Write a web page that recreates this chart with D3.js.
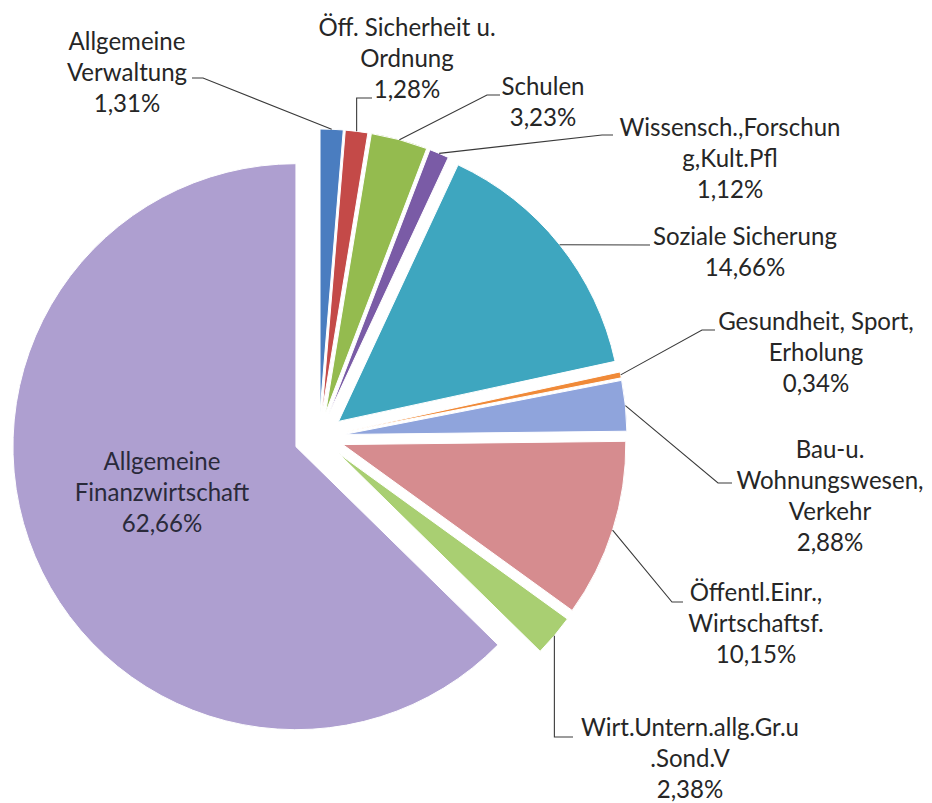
<!DOCTYPE html>
<html>
<head>
<meta charset="utf-8">
<script src="https://cdn.jsdelivr.net/npm/d3@7"></script>
<style>
  html, body { margin: 0; padding: 0; background: #ffffff; }
  svg { display: block; }
</style>
</head>
<body>
<svg id="chart" width="932" height="803"></svg>
<script>
// ---- data ----
const categories = [
  "Allgemeine Verwaltung",
  "Öff. Sicherheit u. Ordnung",
  "Schulen",
  "Wissensch.,Forschung,Kult.Pfl",
  "Soziale Sicherung",
  "Gesundheit, Sport, Erholung",
  "Bau-u. Wohnungswesen, Verkehr",
  "Öffentl.Einr., Wirtschaftsf.",
  "Wirt.Untern.allg.Gr.u .Sond.V",
  "Allgemeine Finanzwirtschaft"
];
const values = [1.31, 1.28, 3.23, 1.12, 14.66, 0.34, 2.88, 10.15, 2.38, 62.66];
const labelLines = [
  ["Allgemeine", "Verwaltung", "1,31%"],
  ["Öff. Sicherheit u.", "Ordnung", "1,28%"],
  ["Schulen", "3,23%"],
  ["Wissensch.,Forschun", "g,Kult.Pfl", "1,12%"],
  ["Soziale Sicherung", "14,66%"],
  ["Gesundheit, Sport,", "Erholung", "0,34%"],
  ["Bau-u.", "Wohnungswesen,", "Verkehr", "2,88%"],
  ["Öffentl.Einr.,", "Wirtschaftsf.", "10,15%"],
  ["Wirt.Untern.allg.Gr.u", ".Sond.V", "2,38%"],
  ["Allgemeine", "Finanzwirtschaft", "62,66%"]
];

// ---- styles / layout ----
const colors = ["#4a7dc0", "#c44a48", "#94bb4f", "#7a5ba6", "#3ea6bf",
                "#f08a38", "#8fa4dc", "#d68c8f", "#a9cf72", "#ae9fd0"];
const cx = 319, cy = 437, R = 283, explode = 25;
const lineH = 31;
// label: text center x, first line center y, elbow points from text to slice
const labelLayout = [
  { x: 127, y: 42,  path: [[192, 78], [203, 78]] },
  { x: 407, y: 28,  path: [[372, 98], ["ax", 98]] },
  { x: 543, y: 87,  path: [[500, 95], [487, 95]] },
  { x: 730, y: 128, path: [[613, 135], [602, 135]] },
  { x: 745, y: 237, path: [[650, 245]] },
  { x: 816, y: 322, path: [[715, 330], [702, 330]] },
  { x: 830, y: 450, path: [[732, 483], [718, 483]] },
  { x: 756, y: 593, path: [[683, 602], [672, 602]] },
  { x: 690, y: 728, path: [[573, 737], ["ax", 737]] },
  { x: 162, y: 462, path: null }
];

const svg = d3.select("#chart");
const g = svg.append("g").attr("transform", `translate(${cx},${cy})`);

const data = categories.map((c, i) => ({ name: c, value: values[i], i }));
const pie = d3.pie().value(d => d.value).sort(null).startAngle(0).endAngle(2 * Math.PI);
const arcs = pie(data);
const arc = d3.arc().innerRadius(0).outerRadius(R);

function offset(a) {
  const m = (a.startAngle + a.endAngle) / 2;
  return [explode * Math.sin(m), -explode * Math.cos(m)];
}

g.selectAll("path.slice")
  .data(arcs)
  .join("path")
  .attr("class", "slice")
  .attr("d", arc)
  .attr("transform", d => { const o = offset(d); return `translate(${o[0]},${o[1]})`; })
  .attr("fill", (d, i) => colors[i])
  .attr("stroke", "#ffffff")
  .attr("stroke-width", 1);

// leader lines
const leaders = svg.append("g");
arcs.forEach((a, i) => {
  const L = labelLayout[i];
  if (!L.path) return;
  const m = (a.startAngle + a.endAngle) / 2;
  const o = offset(a);
  const ax = cx + o[0] + R * Math.sin(m);
  const ay = cy + o[1] - R * Math.cos(m);
  const pts = L.path.map(p => [p[0] === "ax" ? ax : p[0], p[1]]);
  pts.push([ax, ay]);
  leaders.append("path")
    .attr("d", d3.line()(pts))
    .attr("fill", "none")
    .attr("stroke", "#3a3a3a")
    .attr("stroke-width", 1.1);
});

// labels
const fontFamily = "Lato, 'Open Sans', sans-serif";
// fit font size to Calibri-like width of the reference
const probe = svg.append("text").attr("font-family", fontFamily).attr("font-size", 26).text("Soziale Sicherung");
const w = probe.node().getComputedTextLength();
probe.remove();
const fontSize = 26 * 184 / w;

const labels = svg.append("g");
labelLines.forEach((lines, i) => {
  const L = labelLayout[i];
  const t = labels.append("text")
    .attr("font-family", fontFamily)
    .attr("font-size", fontSize)
    .attr("fill", i === 9 ? "#2a2a3a" : "#262626")
    .attr("text-anchor", "middle");
  lines.forEach((s, k) => {
    t.append("tspan")
      .attr("x", L.x)
      .attr("y", L.y + k * lineH)
      .attr("dy", "0.35em")
      .text(s);
  });
});
</script>
</body>
</html>
